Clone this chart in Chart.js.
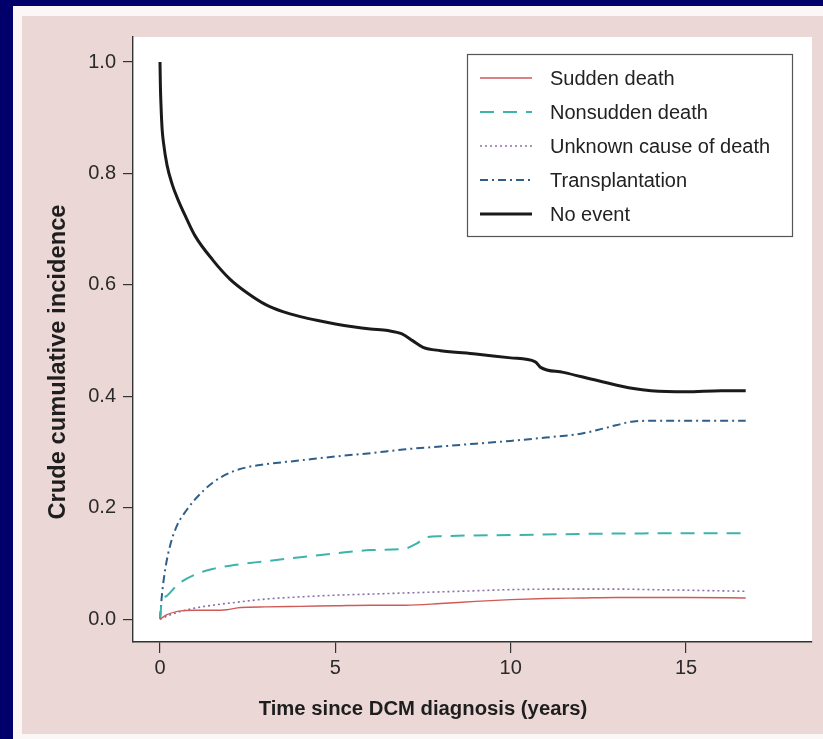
<!DOCTYPE html>
<html>
<head>
<meta charset="utf-8">
<script src="https://cdn.jsdelivr.net/npm/chart.js@4/dist/chart.umd.min.js"></script>
<style>
html,body{margin:0;padding:0;background:#01006a;}
#wrap{position:absolute;left:0;top:0;width:823px;height:739px;}
</style>
</head>
<body>
<div id="wrap"><canvas id="c" width="823" height="739"></canvas></div>
<script>
// ---------- data ----------
const seriesLabels = ["Sudden death","Nonsudden death","Unknown cause of death","Transplantation","No event"];

const suddenT = [0,0.2,0.5,1.0,1.5,1.9,2.3,3,4,5,6,7,8,9,10,11,12,13,14,15,16.7];
const suddenV = [0,0.008,0.014,0.016,0.016,0.017,0.021,0.022,0.023,0.024,0.025,0.025,0.028,0.032,0.035,0.037,0.038,0.039,0.039,0.039,0.038];

const nonsuddenT = [0,0.05,0.2,0.5,1,1.5,2,3,4,5,6,7,7.3,7.6,8,10,12,14,16.7];
const nonsuddenV = [0,0.03,0.042,0.062,0.08,0.09,0.096,0.104,0.111,0.118,0.124,0.127,0.135,0.147,0.149,0.151,0.153,0.154,0.154];

const unknownT = [0,0.3,0.6,1,1.5,2,3,4,5,6,7,8,9,10,12,13,14,15,16.7];
const unknownV = [0,0.008,0.014,0.02,0.025,0.029,0.036,0.04,0.043,0.045,0.047,0.049,0.051,0.053,0.054,0.054,0.053,0.052,0.05];

const transplantT = [0,0.05,0.15,0.3,0.5,0.75,1,1.5,2,2.5,3,4,5,6,7,8,9,10,11,12,12.5,13,13.5,14,16.7];
const transplantV = [0,0.04,0.09,0.135,0.17,0.195,0.215,0.245,0.263,0.273,0.278,0.285,0.292,0.298,0.305,0.31,0.315,0.32,0.326,0.333,0.34,0.348,0.355,0.356,0.356];

const noEventT = [0,0.01,0.03,0.06,0.1,0.2,0.35,0.5,0.75,1,1.5,2,2.5,3,3.5,4,4.5,5,5.5,6,6.5,6.9,7.2,7.5,8,9,10,10.7,10.85,11.5,12.5,13.5,14,15,16,16.7];
const noEventV = [1.0,0.96,0.92,0.88,0.855,0.815,0.78,0.755,0.72,0.688,0.645,0.61,0.585,0.565,0.552,0.543,0.536,0.53,0.525,0.521,0.518,0.512,0.5,0.488,0.482,0.476,0.469,0.462,0.452,0.443,0.428,0.414,0.41,0.408,0.41,0.41];

const xTicks = [0,5,10,15];
const yTicks = [0.0,0.2,0.4,0.6,0.8,1.0];
const xTitle = "Time since DCM diagnosis (years)";
const yTitle = "Crude cumulative incidence";

// ---------- helpers ----------
function pts(t,v){ return t.map((x,i)=>({x:x,y:v[i]})); }
const FONT = "'Liberation Sans', Arial, Helvetica, sans-serif";
const NARROW = "'Liberation Sans Narrow', 'Arial Narrow', 'Liberation Sans', Arial, sans-serif";

const datasets = [
  {label:seriesLabels[0], data:pts(suddenT,suddenV), borderColor:'#cf5a58', borderWidth:1.4, borderDash:[]},
  {label:seriesLabels[1], data:pts(nonsuddenT,nonsuddenV), borderColor:'#3db3ad', borderWidth:2, borderDash:[14,9]},
  {label:seriesLabels[2], data:pts(unknownT,unknownV), borderColor:'#8a6fa8', borderWidth:1.6, borderDash:[2,3]},
  {label:seriesLabels[3], data:pts(transplantT,transplantV), borderColor:'#2f5f88', borderWidth:2, borderDash:[8,4,2,4]},
  {label:seriesLabels[4], data:pts(noEventT,noEventV), borderColor:'#1a1a1a', borderWidth:3, borderDash:[]}
].map(d=>Object.assign(d,{pointRadius:0, fill:false, cubicInterpolationMode:'monotone', borderCapStyle:'butt'}));

function fitFont(ctx, text, targetW){
  ctx.font = "bold 20px " + NARROW;
  const w = ctx.measureText(text).width;
  const size = 20 * targetW / w;
  return "bold " + size.toFixed(2) + "px " + NARROW;
}

const bgPlugin = {
  id:'bg',
  beforeDraw(chart){
    const ctx = chart.ctx, a = chart.chartArea;
    ctx.save();
    ctx.fillStyle = '#01006a'; ctx.fillRect(0,0,823,739);
    ctx.fillStyle = '#fbf7f6'; ctx.fillRect(13,6,810,733);
    ctx.fillStyle = '#ebd7d5'; ctx.fillRect(22,16,801,718);
    ctx.fillStyle = '#ffffff'; ctx.fillRect(a.left,a.top,a.right-a.left,a.bottom-a.top);
    ctx.restore();
  },
  afterDraw(chart){
    const ctx = chart.ctx;
    ctx.save();
    // axis titles
    ctx.fillStyle = '#1e1e1e';
    ctx.textAlign = 'center'; ctx.textBaseline = 'middle';
    ctx.font = fitFont(ctx, xTitle, 329);
    ctx.fillText(xTitle, 423, 709);
    ctx.font = fitFont(ctx, yTitle, 315);
    ctx.translate(58, 362); ctx.rotate(-Math.PI/2);
    ctx.fillText(yTitle, 0, 0);
    ctx.restore();
    // legend
    ctx.save();
    const L = 467, T = 54, W = 325, H = 182;
    ctx.fillStyle = '#ffffff'; ctx.fillRect(L,T,W,H);
    ctx.strokeStyle = '#555'; ctx.lineWidth = 1.2; ctx.strokeRect(L+0.5,T+0.5,W,H);
    ctx.font = "20px " + FONT; ctx.textAlign = 'left'; ctx.textBaseline = 'middle';
    chart.data.datasets.forEach((ds,i)=>{
      const y = T + 24 + i*34;
      ctx.beginPath();
      ctx.strokeStyle = ds.borderColor; ctx.lineWidth = ds.borderWidth;
      ctx.setLineDash(ds.borderDash); ctx.lineDashOffset = 0;
      ctx.moveTo(480,y); ctx.lineTo(532,y); ctx.stroke();
      ctx.setLineDash([]);
      ctx.fillStyle = '#222';
      ctx.fillText(ds.label, 550, y+1);
    });
    ctx.restore();
  }
};

new Chart(document.getElementById('c'), {
  type:'line',
  data:{datasets:datasets},
  plugins:[bgPlugin],
  options:{
    responsive:false,
    animation:false,
    layout:{padding:{top:37,right:11,left:0,bottom:0}},
    plugins:{legend:{display:false}, tooltip:{enabled:false}, title:{display:false}},
    scales:{
      x:{
        type:'linear', min:-0.77, max:18.59,
        afterBuildTicks(s){ s.ticks = xTicks.map(v=>({value:v})); },
        afterFit(s){ s.height = 97; },
        grid:{drawOnChartArea:false, drawTicks:true, tickLength:11, color:'#333', lineWidth:1.2},
        border:{display:true, color:'#333', width:1.4},
        ticks:{font:{family:FONT,size:20}, color:'#2a2a2a', padding:3, maxRotation:0, autoSkip:false,
               callback:(v)=>String(v)}
      },
      y:{
        type:'linear', min:-0.041, max:1.045,
        afterBuildTicks(s){ s.ticks = yTicks.map(v=>({value:v})); },
        afterFit(s){ s.width = 133; },
        grid:{drawOnChartArea:false, drawTicks:true, tickLength:10, color:'#333', lineWidth:1.2},
        border:{display:true, color:'#333', width:1.4},
        ticks:{font:{family:FONT,size:20}, color:'#2a2a2a', padding:7, autoSkip:false,
               callback:(v)=>Number(v).toFixed(1)}
      }
    }
  }
});
</script>
</body>
</html>
